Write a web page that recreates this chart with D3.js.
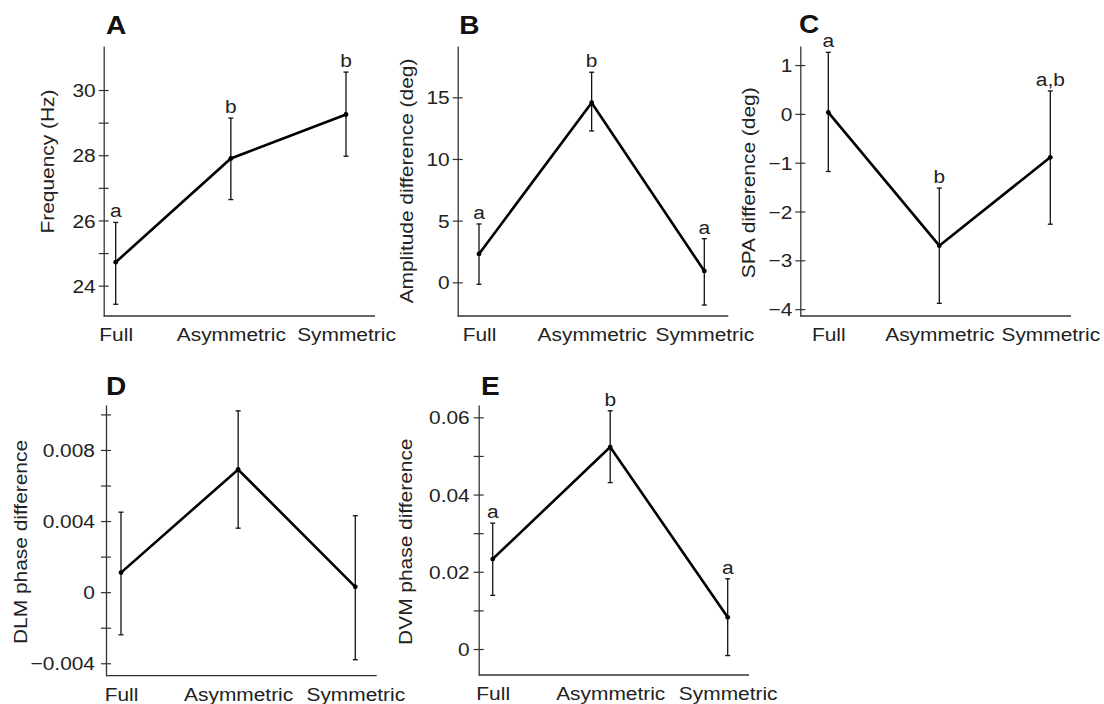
<!DOCTYPE html>
<html>
<head>
<meta charset="utf-8">
<script src="https://cdn.jsdelivr.net/npm/d3@7"></script>
<style>
  html, body { margin: 0; padding: 0; background: #fff; }
  svg { display: block; }
  text { font-family: "Liberation Sans", Arial, Helvetica, sans-serif; fill: #222; }
</style>
</head>
<body>
<svg id="chart" width="1104" height="704"></svg>
<script>
// ---------------- data ----------------
const categories = ["Full", "Asymmetric", "Symmetric"];

const freqMean = [24.72, 27.90, 29.25];
const freqLow  = [23.43, 26.64, 27.97];
const freqHigh = [25.94, 29.14, 30.55];
const freqSig  = ["a", "b", "b"];
const freqTicks = [24, 26, 28, 30];
const freqMinor = [25, 27, 29];
const freqTickLabels = ["24", "26", "28", "30"];

const ampMean = [2.30, 14.56, 0.92];
const ampLow  = [-0.16, 12.27, -1.84];
const ampHigh = [4.73, 17.03, 3.54];
const ampSig  = ["a", "b", "a"];
const ampTicks = [0, 5, 10, 15];
const ampMinor = [];
const ampTickLabels = ["0", "5", "10", "15"];

const spaMean = [0.03, -2.70, -0.89];
const spaLow  = [-1.18, -3.88, -2.26];
const spaHigh = [1.26, -1.52, 0.47];
const spaSig  = ["a", "b", "a,b"];
const spaTicks = [-4, -3, -2, -1, 0, 1];
const spaMinor = [];
const spaTickLabels = ["\u22124", "\u22123", "\u22122", "\u22121", "0", "1"];

const dlmMean = [0.0011, 0.0069, 0.0003];
const dlmLow  = [-0.0024, 0.0036, -0.0038];
const dlmHigh = [0.0045, 0.0102, 0.0043];
const dlmSig  = ["", "", ""];
const dlmTicks = [-0.004, 0, 0.004, 0.008];
const dlmMinor = [-0.002, 0.002, 0.006, 0.010];
const dlmTickLabels = ["\u22120.004", "0", "0.004", "0.008"];

const dvmMean = [0.0233, 0.0523, 0.0082];
const dvmLow  = [0.0139, 0.0431, -0.0017];
const dvmHigh = [0.0326, 0.0617, 0.0182];
const dvmSig  = ["a", "b", "a"];
const dvmTicks = [0, 0.02, 0.04, 0.06];
const dvmMinor = [0.01, 0.03, 0.05];
const dvmTickLabels = ["0", "0.02", "0.04", "0.06"];

// ---------------- layout ----------------
const panels = [
  { letter: "A", title: "Frequency (Hz)", mean: freqMean, low: freqLow, high: freqHigh, sig: freqSig,
    ticks: freqTicks, minor: freqMinor, labels: freqTickLabels, domain: [23.07, 31.35],
    ax: 103.7, top: 46, bottom: 316, xEnd: 375, xFirst: 115.7, xLast: 346,
    titleX: 53.5, titleY: 161.5, letterX: 106, letterY: 34, pad: 3 },
  { letter: "B", title: "Amplitude difference (deg)", mean: ampMean, low: ampLow, high: ampHigh, sig: ampSig,
    ticks: ampTicks, minor: ampMinor, labels: ampTickLabels, domain: [-2.73, 19.16],
    ax: 457.7, top: 46, bottom: 316, xEnd: 728.3, xFirst: 479, xLast: 704.3,
    titleX: 413, titleY: 181, letterX: 459.3, letterY: 34, pad: 3 },
  { letter: "C", title: "SPA difference (deg)", mean: spaMean, low: spaLow, high: spaHigh, sig: spaSig,
    ticks: spaTicks, minor: spaMinor, labels: spaTickLabels, domain: [-4.14, 1.39],
    ax: 800.3, top: 46, bottom: 316, xEnd: 1071, xFirst: 828.3, xLast: 1050.3,
    titleX: 755, titleY: 182.8, letterX: 799, letterY: 33, pad: 3 },
  { letter: "D", title: "DLM phase difference", mean: dlmMean, low: dlmLow, high: dlmHigh, sig: dlmSig,
    ticks: dlmTicks, minor: dlmMinor, labels: dlmTickLabels, domain: [-0.0047, 0.01053],
    ax: 106, top: 405, bottom: 675.7, xEnd: 376.7, xFirst: 121, xLast: 355.3,
    titleX: 26.7, titleY: 542, letterX: 106, letterY: 395, pad: 6 },
  { letter: "E", title: "DVM phase difference", mean: dvmMean, low: dvmLow, high: dvmHigh, sig: dvmSig,
    ticks: dvmTicks, minor: dvmMinor, labels: dvmTickLabels, domain: [-0.00673, 0.06319],
    ax: 478.7, top: 405, bottom: 675, xEnd: 749, xFirst: 492.7, xLast: 727.7,
    titleX: 411.7, titleY: 541.7, letterX: 481, letterY: 395, pad: 4 }
];

const FS = 19, SX = 1.1;
const svg = d3.select("#chart");

function stretchText(sel, x, y, rot) {
  sel.attr("x", 0).attr("y", 0)
     .attr("transform", `translate(${x},${y})` + (rot ? ` rotate(${rot})` : "") + ` scale(${SX},1)`);
}

panels.forEach(p => {
  const g = svg.append("g");
  const x = d3.scalePoint().domain(categories).range([p.xFirst, p.xLast]);
  const y = d3.scaleLinear().domain(p.domain).range([p.bottom, p.top]);

  // y axis (major)
  const yAxis = d3.axisLeft(y).tickValues(p.ticks)
    .tickFormat((d, i) => p.labels[i]).tickSizeOuter(0).tickSizeInner(5).tickPadding(3);
  const ga = g.append("g").attr("transform", `translate(${p.ax},0)`).call(yAxis);
  ga.select(".domain").attr("stroke", "#333").attr("stroke-width", 1.3);
  ga.selectAll(".tick line").attr("x1", -5).attr("x2", 5).attr("stroke", "#333").attr("stroke-width", 1.2);
  ga.selectAll(".tick text").each(function () {
    const t = d3.select(this);
    t.attr("dy", "0.35em").attr("font-size", FS).attr("font-family", null).style("fill", "#222");
    stretchText(t, -5 - p.pad, 0);
  });

  // minor ticks
  if (p.minor.length) {
    const gm = g.append("g").attr("transform", `translate(${p.ax},0)`)
      .call(d3.axisLeft(y).tickValues(p.minor).tickFormat("").tickSizeOuter(0).tickSizeInner(5));
    gm.select(".domain").remove();
    gm.selectAll(".tick line").attr("x1", -5).attr("x2", 5).attr("stroke", "#333").attr("stroke-width", 1.2);
  }

  // x axis line
  g.append("line").attr("x1", p.ax).attr("x2", p.xEnd).attr("y1", p.bottom).attr("y2", p.bottom)
    .attr("stroke", "#333").attr("stroke-width", 1.3);

  // x labels
  const gx = g.append("g").attr("transform", `translate(0,${p.bottom})`)
    .call(d3.axisBottom(x).tickSize(0).tickPadding(11.5));
  gx.select(".domain").remove();
  gx.selectAll(".tick text").each(function () {
    const t = d3.select(this);
    t.attr("font-size", FS).attr("font-family", null).style("fill", "#222");
    const yy = +t.attr("y");
    stretchText(t, 0, yy);
  });

  // y title
  const tt = g.append("text").attr("font-size", FS).attr("text-anchor", "middle").text(p.title);
  stretchText(tt, p.titleX, p.titleY, -90);

  // panel letter
  g.append("text").attr("font-size", 26).attr("font-weight", "bold").style("fill", "#111")
    .attr("transform", `translate(${p.letterX},${p.letterY}) scale(1.08,1)`).text(p.letter);

  // error bars
  const idx = d3.range(categories.length);
  const eb = g.append("g").attr("stroke", "#111").attr("stroke-width", 1.3);
  idx.forEach(i => {
    const cx = x(categories[i]);
    eb.append("line").attr("x1", cx).attr("x2", cx).attr("y1", y(p.low[i])).attr("y2", y(p.high[i]));
    eb.append("line").attr("x1", cx - 2.5).attr("x2", cx + 2.5).attr("y1", y(p.low[i])).attr("y2", y(p.low[i]));
    eb.append("line").attr("x1", cx - 2.5).attr("x2", cx + 2.5).attr("y1", y(p.high[i])).attr("y2", y(p.high[i]));
  });

  // mean line
  const line = d3.line().x((d, i) => x(categories[i])).y(d => y(d));
  g.append("path").datum(p.mean).attr("d", line).attr("fill", "none")
    .attr("stroke", "#000").attr("stroke-width", 2.6).attr("stroke-linejoin", "miter");

  // points
  g.selectAll("circle.pt").data(p.mean).join("circle").attr("class", "pt")
    .attr("cx", (d, i) => x(categories[i])).attr("cy", d => y(d)).attr("r", 2.4).attr("fill", "#000");

  // significance letters
  idx.forEach(i => {
    if (!p.sig[i]) return;
    const t = g.append("text").attr("font-size", FS).attr("text-anchor", "middle").text(p.sig[i]);
    stretchText(t, x(categories[i]), y(p.high[i]) - 5);
  });
});
</script>
</body>
</html>
